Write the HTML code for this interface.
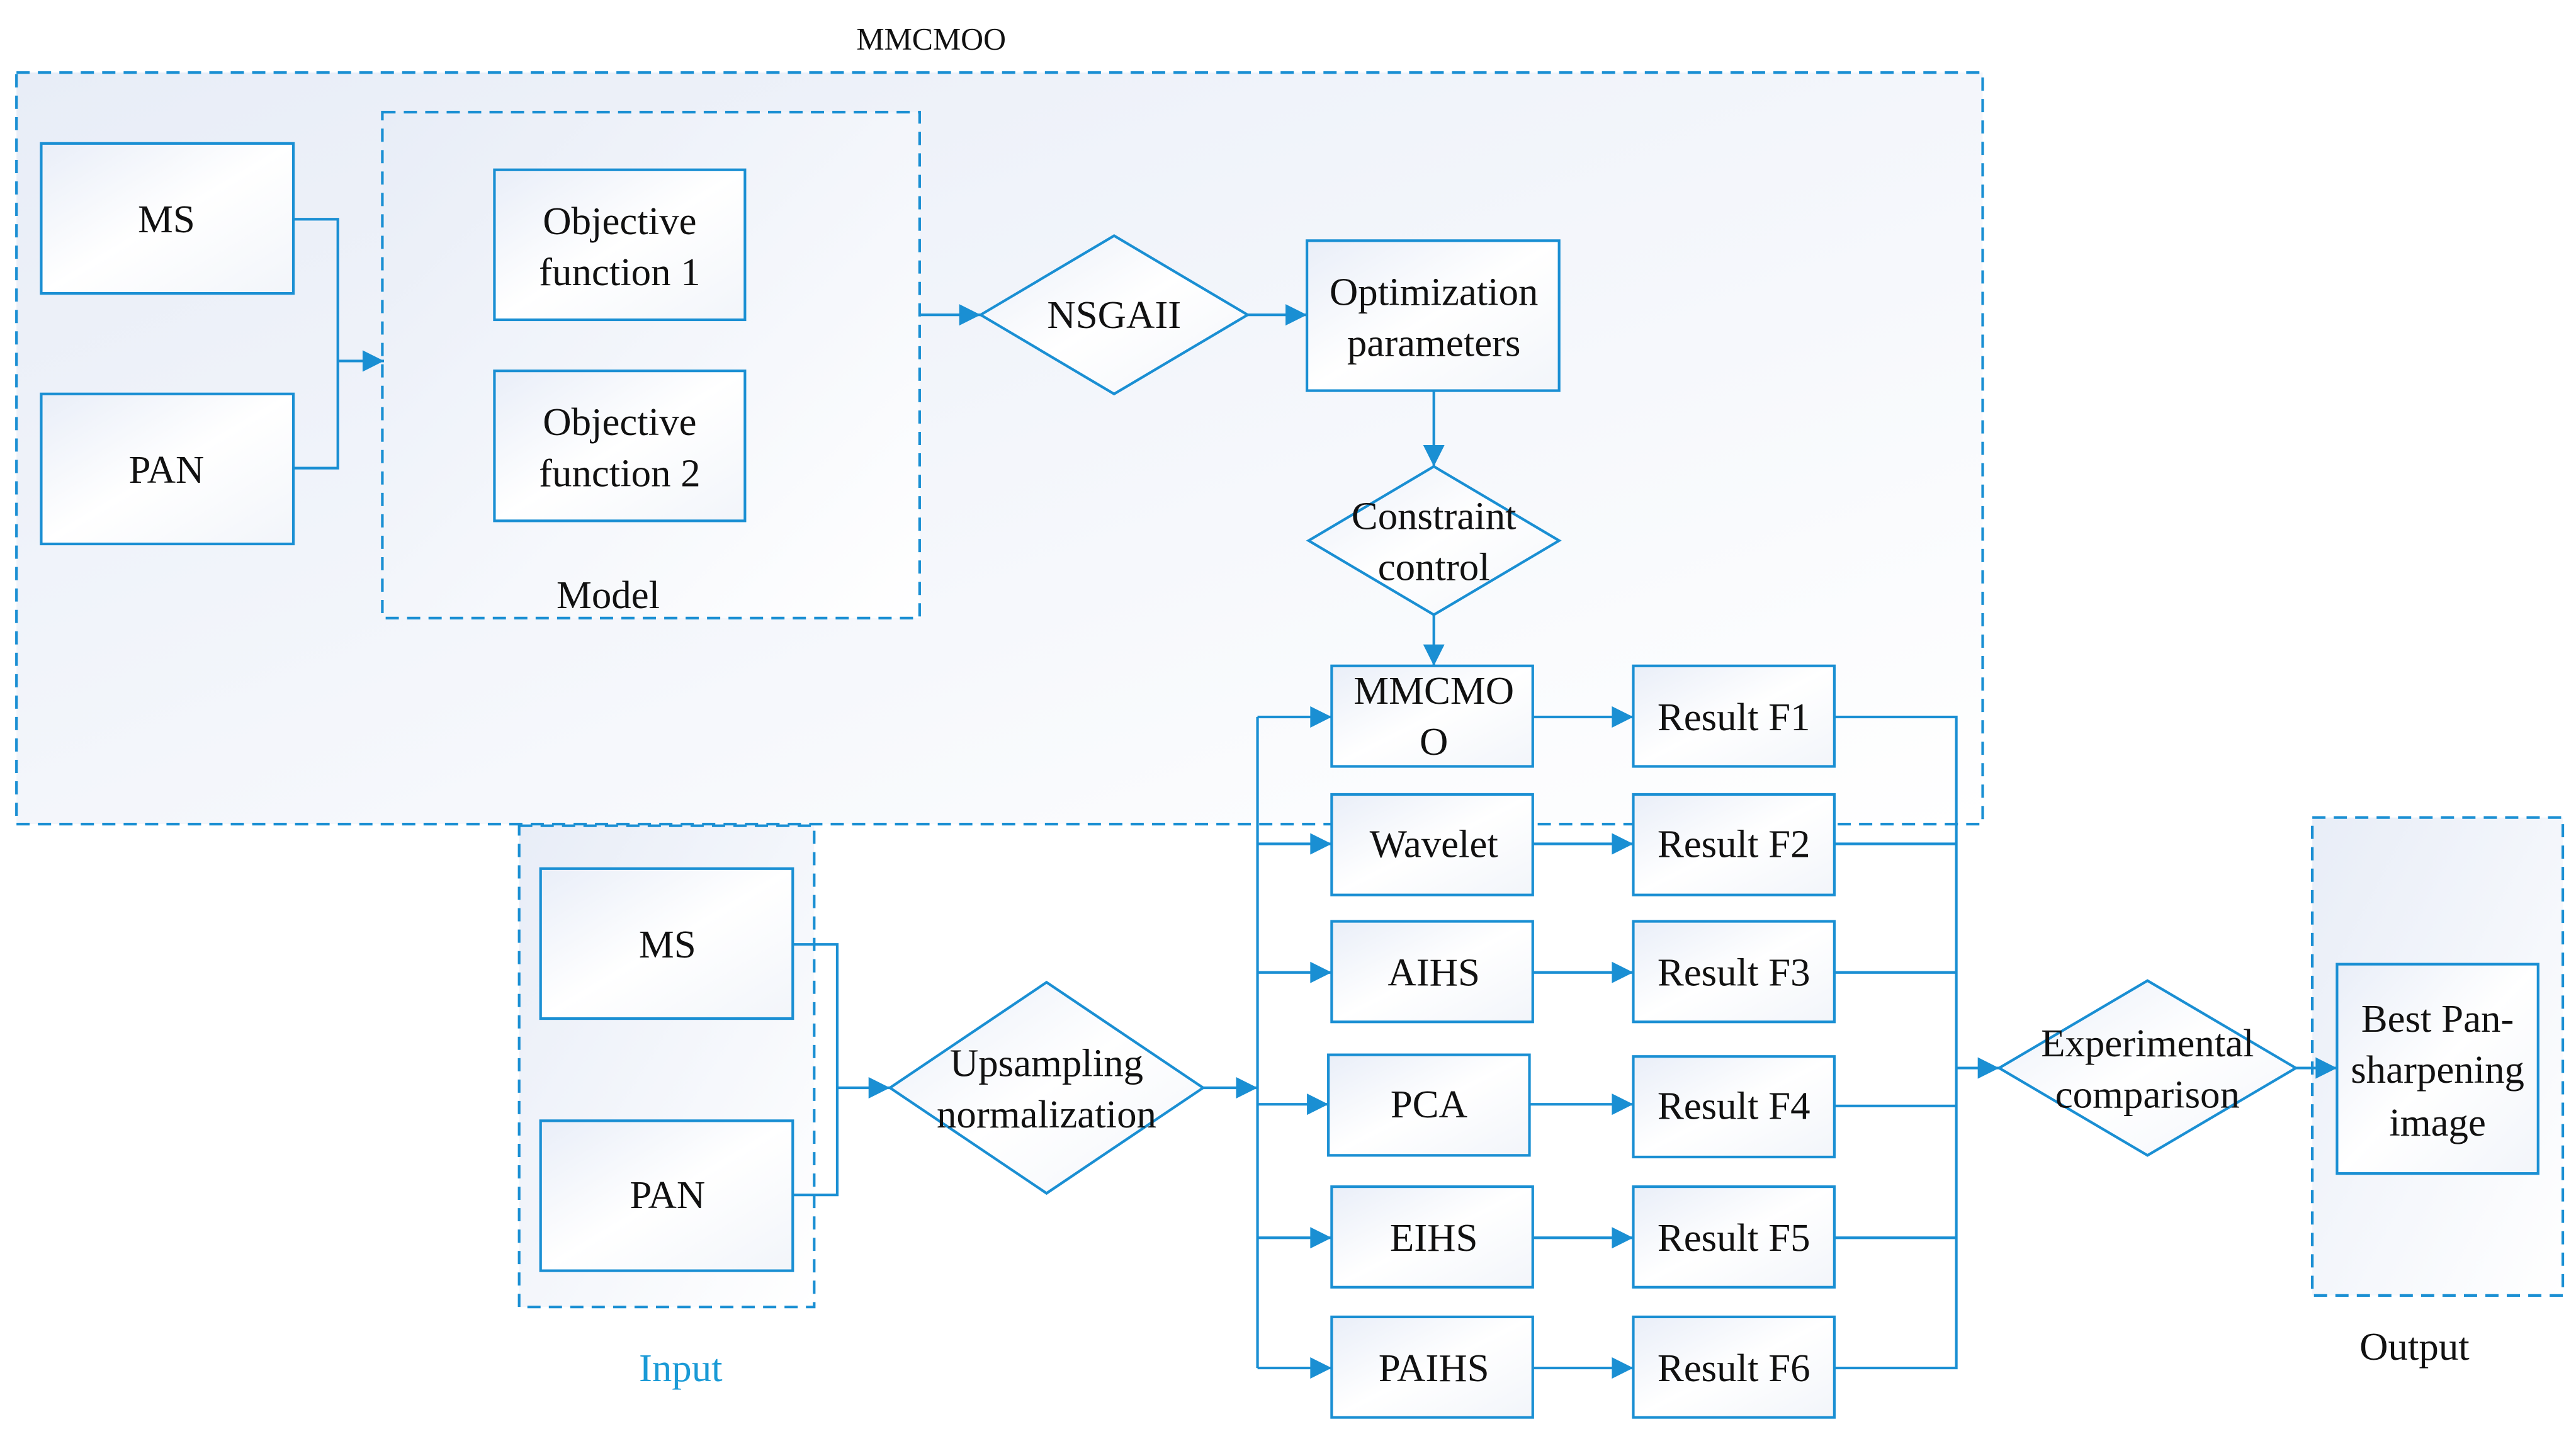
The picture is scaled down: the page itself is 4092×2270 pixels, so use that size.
<!DOCTYPE html>
<html><head><meta charset="utf-8"><style>
html,body{margin:0;padding:0;background:#fff;}
svg{display:block;}
text{font-family:"Liberation Serif",serif;fill:#111;}
</style></head><body>
<svg width="4092" height="2270" viewBox="0 0 1563 867" xmlns="http://www.w3.org/2000/svg">
<defs>
<linearGradient id="bg" x1="0" y1="0" x2="1" y2="1"><stop offset="0" stop-color="#e8edf7"/><stop offset="1" stop-color="#ffffff"/></linearGradient>
<linearGradient id="bx" x1="0" y1="0" x2="1" y2="1"><stop offset="0" stop-color="#e9eef8"/><stop offset="0.5" stop-color="#ffffff"/><stop offset="1" stop-color="#f2f5fa"/></linearGradient>
<marker id="a" viewBox="0 0 10 10" refX="10" refY="5" markerWidth="14" markerHeight="13" orient="auto" markerUnits="userSpaceOnUse"><path d="M0,0 L10,5 L0,10 z" fill="#1a8fd3"/></marker>
</defs>
<g stroke="#1a8fd3" stroke-width="1.6" fill="none">
<rect x="10" y="44" width="1193" height="456" fill="url(#bg)" stroke-dasharray="8,5"/>
<rect x="232" y="68" width="326" height="307" fill="url(#bg)" stroke-dasharray="8,5"/>
<rect x="315" y="501" width="179" height="292" fill="url(#bg)" stroke-dasharray="8,5"/>
<rect x="1403" y="496" width="152" height="290" fill="url(#bg)" stroke-dasharray="8,5"/>
<g fill="url(#bx)">
<rect x="25" y="87" width="153" height="91"/>
<rect x="25" y="239" width="153" height="91"/>
<rect x="300" y="103" width="152" height="91"/>
<rect x="300" y="225" width="152" height="91"/>
<rect x="793" y="146" width="153" height="91"/>
<polygon points="595,191 676,143 757,191 676,239"/>
<polygon points="794,328 870,283 946,328 870,373"/>
<rect x="808" y="404" width="122" height="61"/>
<rect x="808" y="482" width="122" height="61"/>
<rect x="808" y="559" width="122" height="61"/>
<rect x="806" y="640" width="122" height="61"/>
<rect x="808" y="720" width="122" height="61"/>
<rect x="808" y="799" width="122" height="61"/>
<rect x="991" y="404" width="122" height="61"/>
<rect x="991" y="482" width="122" height="61"/>
<rect x="991" y="559" width="122" height="61"/>
<rect x="991" y="641" width="122" height="61"/>
<rect x="991" y="720" width="122" height="61"/>
<rect x="991" y="799" width="122" height="61"/>
<rect x="328" y="527" width="153" height="91"/>
<rect x="328" y="680" width="153" height="91"/>
<polygon points="540,660 635,596 730,660 635,724"/>
<polygon points="1213,648 1303,595 1393,648 1303,701"/>
<rect x="1418" y="585" width="122" height="127"/>
</g>
<path d="M178,133 H205 V284 H178"/>
<path d="M205,219 H233" marker-end="url(#a)"/>
<path d="M558,191 H595" marker-end="url(#a)"/>
<path d="M757,191 H793" marker-end="url(#a)"/>
<path d="M870,237 V283" marker-end="url(#a)"/>
<path d="M870,373 V404" marker-end="url(#a)"/>
<path d="M763,435 V830"/>
<path d="M763,435 H808" marker-end="url(#a)"/>
<path d="M763,512 H808" marker-end="url(#a)"/>
<path d="M763,590 H808" marker-end="url(#a)"/>
<path d="M763,670 H806" marker-end="url(#a)"/>
<path d="M763,751 H808" marker-end="url(#a)"/>
<path d="M763,830 H808" marker-end="url(#a)"/>
<path d="M730,660 H763" marker-end="url(#a)"/>
<path d="M930,435 H991" marker-end="url(#a)"/>
<path d="M930,512 H991" marker-end="url(#a)"/>
<path d="M930,590 H991" marker-end="url(#a)"/>
<path d="M928,670 H991" marker-end="url(#a)"/>
<path d="M930,751 H991" marker-end="url(#a)"/>
<path d="M930,830 H991" marker-end="url(#a)"/>
<path d="M1113,435 H1187 V830 H1113"/>
<path d="M1113,512 H1187 M1113,590 H1187 M1113,671 H1187 M1113,751 H1187"/>
<path d="M1187,648 H1213" marker-end="url(#a)"/>
<path d="M1393,648 H1418" marker-end="url(#a)"/>
<path d="M481,573 H508 V725 H481"/>
<path d="M508,660 H540" marker-end="url(#a)"/>
</g>
<g font-size="24" text-anchor="middle">
<text x="565" y="30" font-size="19">MMCMOO</text>
<text x="101" y="141">MS</text>
<text x="101" y="293">PAN</text>
<text x="376" y="142">Objective</text>
<text x="376" y="173">function 1</text>
<text x="376" y="264">Objective</text>
<text x="376" y="295">function 2</text>
<text x="369" y="369">Model</text>
<text x="676" y="199">NSGAII</text>
<text x="870" y="185">Optimization</text>
<text x="870" y="216">parameters</text>
<text x="870" y="321">Constraint</text>
<text x="870" y="352">control</text>
<text x="870" y="427">MMCMO</text>
<text x="870" y="458">O</text>
<text x="870" y="520">Wavelet</text>
<text x="870" y="598">AIHS</text>
<text x="867" y="678">PCA</text>
<text x="870" y="759">EIHS</text>
<text x="870" y="838">PAIHS</text>
<text x="1052" y="443">Result F1</text>
<text x="1052" y="520">Result F2</text>
<text x="1052" y="598">Result F3</text>
<text x="1052" y="679">Result F4</text>
<text x="1052" y="759">Result F5</text>
<text x="1052" y="838">Result F6</text>
<text x="405" y="581">MS</text>
<text x="405" y="733">PAN</text>
<text x="635" y="653">Upsampling</text>
<text x="635" y="684">normalization</text>
<text x="1303" y="641">Experimental</text>
<text x="1303" y="672">comparison</text>
<text x="1479" y="626">Best Pan-</text>
<text x="1479" y="657">sharpening</text>
<text x="1479" y="689">image</text>
<text x="413" y="838" style="fill:#1a9ad6">Input</text>
<text x="1465" y="825">Output</text>
</g>
</svg>
</body></html>
